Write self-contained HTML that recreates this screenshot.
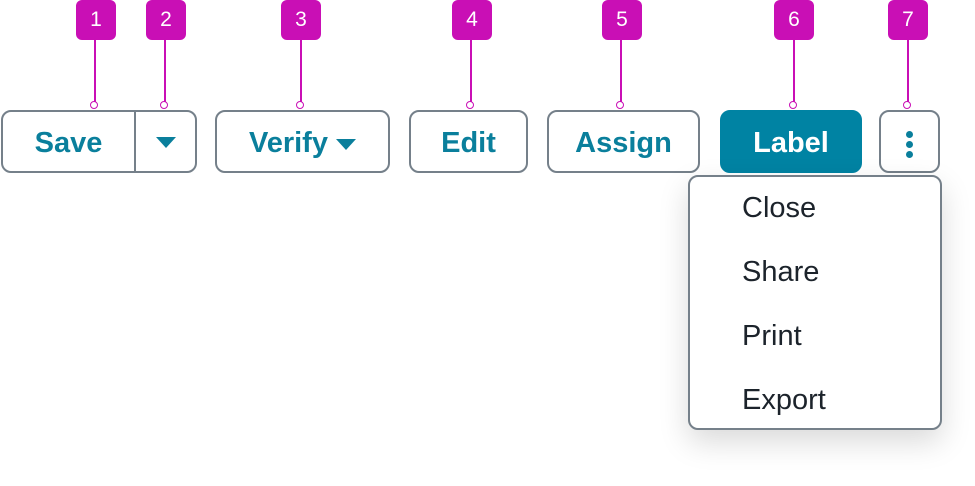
<!DOCTYPE html>
<html><head><style>
body{margin:0;width:975px;height:486px;background:#fff;position:relative;overflow:hidden;font-family:"Liberation Sans",sans-serif}
.b{position:absolute;top:0;width:40px;height:40px;background:#c90fb5;border-radius:6px;color:#fff;font-size:21px;text-align:center;line-height:40px}
.l{position:absolute;top:39px;width:2px;height:64px;background:#c90fb5}
.c{position:absolute;top:101px;width:6px;height:6px;border:1.6px solid #c90fb5;border-radius:50%;background:#fff;z-index:3}
.btn{position:absolute;top:110px;height:59px;border:2px solid #75808a;border-radius:10px;box-sizing:content-box;color:#0a7f9c;font-weight:bold;font-size:29px;line-height:63px;text-align:center}
.tri{display:inline-block;width:0;height:0;border-left:10px solid transparent;border-right:10px solid transparent;border-top:11px solid #0a7f9c;vertical-align:middle}
.menu{position:absolute;left:688px;top:175px;width:250px;height:251px;border:2px solid #75808a;border-radius:10px;background:#fff;box-shadow:0 12px 30px rgba(0,0,0,.15)}
.mi{position:absolute;left:52px;font-size:29px;color:#1c232b}
.dot{width:7px;height:7px;border-radius:50%;background:#0a7f9c;margin:3px auto}
</style></head><body>
<div class="b" style="left:76px">1</div><div class="l" style="left:94px"></div><div class="c" style="left:90px"></div>
<div class="b" style="left:146px">2</div><div class="l" style="left:164px"></div><div class="c" style="left:160px"></div>
<div class="b" style="left:281px">3</div><div class="l" style="left:300px"></div><div class="c" style="left:296px"></div>
<div class="b" style="left:452px">4</div><div class="l" style="left:470px"></div><div class="c" style="left:466px"></div>
<div class="b" style="left:602px">5</div><div class="l" style="left:620px"></div><div class="c" style="left:616px"></div>
<div class="b" style="left:774px">6</div><div class="l" style="left:793px"></div><div class="c" style="left:789px"></div>
<div class="b" style="left:888px">7</div><div class="l" style="left:907px"></div><div class="c" style="left:903px"></div>

<div class="btn" style="left:1px;width:192px;text-align:left">
 <span style="position:absolute;left:0;width:131px;text-align:center">Save</span>
 <span style="position:absolute;left:131px;top:0;width:2px;height:59px;background:#75808a"></span>
 <span style="position:absolute;left:133px;width:59px;text-align:center;line-height:59px"><span class="tri"></span></span>
</div>
<div class="btn" style="left:215px;width:171px">Verify <span class="tri"></span></div>
<div class="btn" style="left:409px;width:115px">Edit</div>
<div class="btn" style="left:547px;width:149px">Assign</div>
<div class="btn" style="left:720px;width:138px;background:#0083a3;border-color:#0083a3;color:#fff">Label</div>
<div class="btn" style="left:879px;width:57px"><div style="padding-top:16px;line-height:normal"><div class="dot"></div><div class="dot"></div><div class="dot"></div></div></div>

<div class="menu">
<div class="mi" style="top:15px">Close</div>
<div class="mi" style="top:79px">Share</div>
<div class="mi" style="top:143px">Print</div>
<div class="mi" style="top:207px">Export</div>
</div>
</body></html>
